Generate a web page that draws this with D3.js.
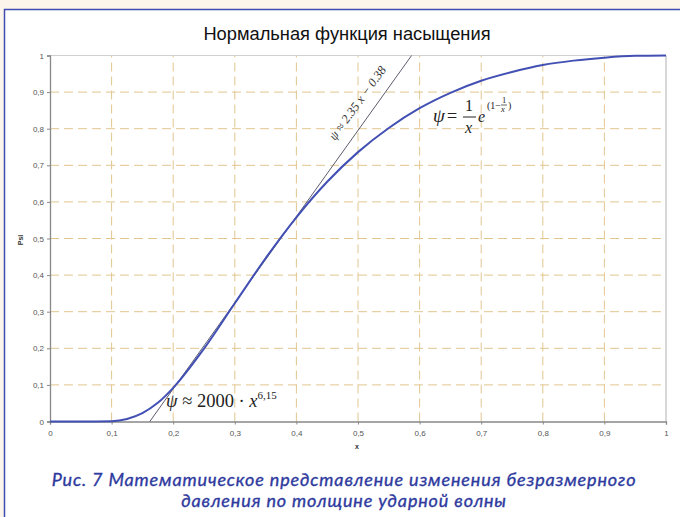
<!DOCTYPE html>
<html><head><meta charset="utf-8">
<script src="https://cdn.jsdelivr.net/npm/d3@7"></script>
<style>
html,body{margin:0;padding:0;background:#fcf5ec;}
svg{display:block;}
</style></head>
<body>
<script>
const title = "Нормальная функция насыщения";
const captionLines = ["Рис. 7 Математическое представление изменения безразмерного", "давления по толщине ударной волны"];
const xTicks = [0,0.1,0.2,0.3,0.4,0.5,0.6,0.7,0.8,0.9,1];
const yTicks = [0,0.1,0.2,0.3,0.4,0.5,0.6,0.7,0.8,0.9,1];
const curveX = [0,0.05,0.1,0.125,0.15,0.175,0.2,0.25,0.3,0.35,0.4,0.45,0.5,0.55,0.6,0.65,0.7,0.75,0.8,0.85,0.9,0.95,1];
const curveY = [0,0,0.001,0.007,0.023,0.051,0.092,0.199,0.323,0.446,0.558,0.655,0.736,0.802,0.856,0.898,0.931,0.955,0.974,0.986,0.994,0.999,1];
const tangentX = [0.162,0.587];
const tangentY = [0,1];

const W=680,H=517;
const svg=d3.select("body").append("svg").attr("width",W).attr("height",H);
svg.append("rect").attr("x",4.5).attr("y",9.5).attr("width",W).attr("height",H).attr("fill","#fff").attr("stroke","#3f4cb0").attr("stroke-width",1.5);

const x=d3.scaleLinear().domain([0,1]).range([50,666]);
const y=d3.scaleLinear().domain([0,1]).range([421.5,55.5]);
const fmt=d=>String(d).replace(".",",");

svg.append("text").attr("x",347).attr("y",40).attr("text-anchor","middle")
  .attr("font-family","Liberation Sans, Arial, sans-serif").attr("font-size",18.3).attr("fill","#111").text(title);

const g=svg.append("g");
g.selectAll(".hg").data(yTicks.filter(d=>d>0&&d<1)).join("line")
  .attr("x1",x(0)).attr("x2",x(1)).attr("y1",d=>y(d)).attr("y2",d=>y(d))
  .attr("stroke","#e2c68e").attr("stroke-width",1).attr("stroke-dasharray","9,5");
g.selectAll(".vg").data(xTicks.filter(d=>d>0&&d<1)).join("line")
  .attr("y1",y(0)).attr("y2",y(1)).attr("x1",d=>x(d)).attr("x2",d=>x(d))
  .attr("stroke","#e2c68e").attr("stroke-width",1).attr("stroke-dasharray","9,5");
g.append("line").attr("x1",x(0)).attr("x2",x(1)).attr("y1",y(1)).attr("y2",y(1)).attr("stroke","#d0d0d0");
g.append("line").attr("x1",x(1)).attr("x2",x(1)).attr("y1",y(1)).attr("y2",y(0)).attr("stroke","#b0b0b0");

const ax=svg.append("g").attr("transform",`translate(0,${y(0)})`)
  .call(d3.axisBottom(x).tickValues(xTicks).tickFormat(fmt).tickSize(3).tickPadding(6));
const ay=svg.append("g").attr("transform",`translate(${x(0)},0)`)
  .call(d3.axisLeft(y).tickValues(yTicks).tickFormat(fmt).tickSize(3).tickPadding(3));
[ax,ay].forEach(a=>{
  a.select(".domain").attr("stroke","#888").attr("stroke-width",1.3);
  a.selectAll(".tick line").attr("stroke","#888");
  a.selectAll("text").attr("font-family","Liberation Sans, Arial, sans-serif").attr("font-size",8).attr("fill","#555");
});
svg.append("text").attr("x",357).attr("y",449).attr("text-anchor","middle")
  .attr("font-family","Liberation Sans, Arial, sans-serif").attr("font-size",7).attr("font-weight","bold").attr("fill","#333").text("x");
svg.append("text").attr("transform","translate(23,240) rotate(-90)").attr("text-anchor","middle")
  .attr("font-family","Liberation Sans, Arial, sans-serif").attr("font-size",7).attr("font-weight","bold").attr("fill","#333").text("Psi");

const pts=curveX.map((d,i)=>[d,curveY[i]]);
svg.append("path").datum(tangentX.map((d,i)=>[d,tangentY[i]]))
  .attr("d",d3.line().x(d=>x(d[0])).y(d=>y(d[1])))
  .attr("stroke","#4a4a60").attr("stroke-width",0.9).attr("fill","none");
svg.append("path").datum(pts)
  .attr("d",d3.line().x(d=>x(d[0])).y(d=>y(d[1])).curve(d3.curveMonotoneX))
  .attr("stroke","#4250b4").attr("stroke-width",2).attr("fill","none");

const tf="Liberation Serif, Times New Roman, serif";
svg.append("text").attr("transform","translate(335,141) rotate(-54)")
  .attr("font-family",tf).attr("font-style","italic").attr("font-size",12.5).attr("fill","#333")
  .text("ψ ≈ 2.35  x − 0.38");

const f2=svg.append("g").attr("font-family",tf).attr("fill","#222");
f2.append("text").attr("x",433).attr("y",122).attr("font-size",19).attr("font-style","italic").text("ψ");
f2.append("text").attr("x",447).attr("y",122).attr("font-size",18).text("=");
f2.append("text").attr("x",465).attr("y",111).attr("font-size",16).text("1");
f2.append("line").attr("x1",463).attr("x2",476).attr("y1",117).attr("y2",117).attr("stroke","#222").attr("stroke-width",1);
f2.append("text").attr("x",465).attr("y",133).attr("font-size",16).attr("font-style","italic").text("x");
f2.append("text").attr("x",478).attr("y",122).attr("font-size",16).attr("font-style","italic").text("e");
f2.append("text").attr("x",487).attr("y",109).attr("font-size",10).text("(1−");
f2.append("text").attr("x",502).attr("y",103).attr("font-size",8.5).text("1");
f2.append("line").attr("x1",501).attr("x2",507).attr("y1",105).attr("y2",105).attr("stroke","#222").attr("stroke-width",0.7);
f2.append("text").attr("x",501).attr("y",112).attr("font-size",8.5).attr("font-style","italic").text("x");
f2.append("text").attr("x",508).attr("y",109).attr("font-size",10).text(")");

const f3=svg.append("text").attr("x",166).attr("y",407).attr("font-family",tf).attr("font-size",18.5).attr("fill","#222");
f3.append("tspan").attr("font-style","italic").text("ψ");
f3.append("tspan").text(" ≈ 2000 · ");
f3.append("tspan").attr("font-style","italic").text("x");
f3.append("tspan").attr("font-size",11).attr("dy",-8).text("6,15");

svg.selectAll(".cap").data(captionLines).join("text")
  .attr("x",344).attr("y",(d,i)=>486+i*21).attr("text-anchor","middle")
  .attr("font-family","Lato, 'Open Sans', sans-serif").attr("font-style","italic").attr("font-size",18)
  .attr("letter-spacing",0.85)
  .attr("fill","#2e3a9e").attr("stroke","#2e3a9e").attr("stroke-width",0.35).text(d=>d);
</script>
</body></html>
